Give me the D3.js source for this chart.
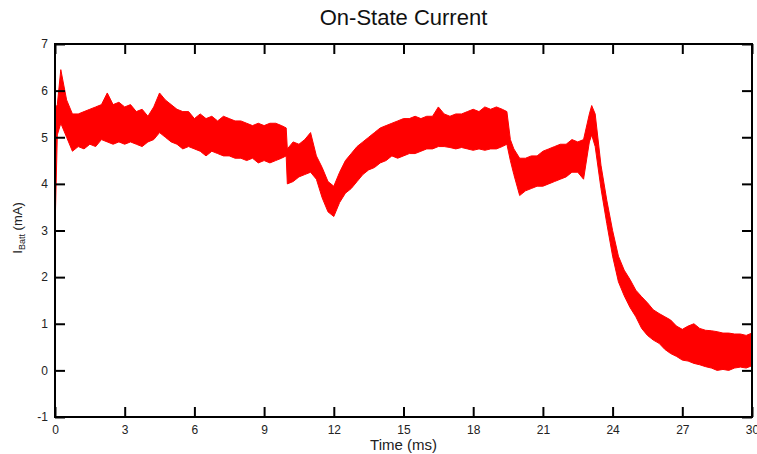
<!DOCTYPE html>
<html>
<head>
<meta charset="utf-8">
<script src="https://cdn.jsdelivr.net/npm/d3@7/dist/d3.min.js"></script>
<style>
  html, body { margin: 0; padding: 0; background: #fff; }
  svg { display: block; }
  text { font-family: "Liberation Sans", Arial, sans-serif; }
</style>
</head>
<body>
<svg id="chart" width="757" height="454"></svg>
<script>
// ---- Data ----
const title = "On-State Current";
const xTicks = [0, 3, 6, 9, 12, 15, 18, 21, 24, 27, 30];
const yTicks = [-1, 0, 1, 2, 3, 4, 5, 6, 7];

// time (ms)
const timeMs = [0, 0.1, 0.25, 0.5, 0.75, 1, 1.25, 1.5, 1.75, 2, 2.25, 2.5, 2.75, 3, 3.25, 3.5, 3.75,
  4, 4.25, 4.5, 4.75, 5, 5.25, 5.5, 5.75, 6, 6.25, 6.5, 6.75, 7, 7.25, 7.5, 7.75,
  8, 8.25, 8.5, 8.75, 9, 9.25, 9.5, 9.75, 9.95, 10, 10.25, 10.5, 10.75, 11, 11.25, 11.5, 11.75,
  12, 12.25, 12.5, 12.75, 13, 13.25, 13.5, 13.75, 14, 14.25, 14.5, 14.75,
  15, 15.25, 15.5, 15.75, 16, 16.25, 16.5, 16.75, 17, 17.25, 17.5, 17.75,
  18, 18.25, 18.5, 18.75, 19, 19.25, 19.45, 19.6, 19.75, 20, 20.25, 20.5, 20.75,
  21, 21.25, 21.5, 21.75, 22, 22.25, 22.5, 22.75, 23, 23.1, 23.25, 23.5, 23.75,
  24, 24.25, 24.5, 24.75, 25, 25.25, 25.5, 25.75, 26, 26.25, 26.5, 26.75,
  27, 27.25, 27.5, 27.75, 28, 28.25, 28.5, 28.75, 29, 29.25, 29.5, 29.75, 30];
// upper envelope of I_Batt (mA)
const upperMa = [5.6, 5.7, 6.45, 5.8, 5.5, 5.5, 5.55, 5.6, 5.65, 5.7, 5.95, 5.7, 5.75, 5.65, 5.7, 5.55, 5.6,
  5.45, 5.65, 5.95, 5.8, 5.7, 5.6, 5.55, 5.55, 5.4, 5.5, 5.4, 5.45, 5.35, 5.45, 5.4, 5.35,
  5.35, 5.3, 5.25, 5.3, 5.25, 5.3, 5.3, 5.25, 5.2, 4.75, 4.9, 4.85, 4.95, 5.1, 4.6, 4.35, 4.05,
  3.95, 4.25, 4.5, 4.65, 4.8, 4.9, 5.0, 5.1, 5.2, 5.25, 5.3, 5.35,
  5.4, 5.4, 5.45, 5.4, 5.45, 5.45, 5.65, 5.5, 5.45, 5.5, 5.5, 5.55,
  5.6, 5.55, 5.65, 5.6, 5.65, 5.6, 5.55, 4.95, 4.75, 4.55, 4.55, 4.6, 4.6,
  4.7, 4.75, 4.8, 4.85, 4.85, 4.95, 4.9, 4.95, 5.5, 5.68, 5.5, 4.4, 3.65,
  3.0, 2.45, 2.15, 1.95, 1.72, 1.58, 1.45, 1.3, 1.22, 1.15, 1.08, 0.95,
  0.88, 0.95, 1.0, 0.9, 0.86, 0.85, 0.83, 0.8, 0.8, 0.78, 0.78, 0.75, 0.8];
// lower envelope of I_Batt (mA)
const lowerMa = [3.0, 5.05, 5.3, 5.0, 4.7, 4.8, 4.75, 4.85, 4.8, 4.95, 4.9, 4.85, 4.9, 4.85, 4.9, 4.85, 4.8,
  4.9, 4.95, 5.1, 5.0, 4.9, 4.85, 4.75, 4.8, 4.75, 4.7, 4.6, 4.7, 4.65, 4.6, 4.6, 4.55,
  4.55, 4.5, 4.55, 4.45, 4.5, 4.45, 4.5, 4.55, 4.6, 4.0, 4.05, 4.15, 4.2, 4.25, 4.1, 3.7, 3.4,
  3.3, 3.6, 3.8, 3.9, 4.05, 4.2, 4.3, 4.35, 4.45, 4.5, 4.6, 4.55,
  4.6, 4.65, 4.65, 4.7, 4.75, 4.75, 4.8, 4.8, 4.78, 4.75, 4.78, 4.75,
  4.72, 4.75, 4.72, 4.75, 4.75, 4.8, 4.85, 4.5, 4.2, 3.75, 3.85, 3.9, 3.95,
  3.95, 4.0, 4.05, 4.1, 4.15, 4.25, 4.25, 4.1, 4.9, 5.05, 4.8, 3.9, 3.15,
  2.45, 1.9, 1.6, 1.35, 1.15, 0.9, 0.75, 0.65, 0.58, 0.45, 0.36, 0.3,
  0.22, 0.2, 0.15, 0.12, 0.08, 0.05, 0.0, 0.02, 0.0, 0.05, 0.07, 0.05, 0.1];

const data = timeMs.map((t, i) => ({ t, hi: upperMa[i], lo: lowerMa[i] }));

// ---- Layout ----
const svg = d3.select("#chart");
const m = { left: 55, right: 752, top: 44, bottom: 417 };
const x = d3.scaleLinear().domain([0, 30]).range([m.left, m.right]);
const y = d3.scaleLinear().domain([-1, 7]).range([m.bottom, m.top]);

// data band
svg.append("path")
  .datum(data)
  .attr("fill", "#ff0000")
  .attr("stroke", "#ff0000")
  .attr("stroke-width", 1)
  .attr("d", d3.area().x(d => x(d.t)).y0(d => y(d.lo)).y1(d => y(d.hi)));

// axes (ticks inward, mirrored)
const tickLen = 10;
const fmt = d => String(d);
const axStyle = g => {
  g.selectAll(".domain").remove();
  g.selectAll(".tick line").attr("stroke", "#000").attr("stroke-width", 2);
  g.selectAll(".tick text").attr("fill", "#222").style("font-size", "12px");
};
svg.append("g").attr("transform", `translate(0,${m.bottom})`)
  .call(d3.axisBottom(x).tickValues(xTicks).tickFormat(fmt).tickSizeInner(-tickLen).tickSizeOuter(0).tickPadding(8))
  .call(axStyle);
svg.append("g").attr("transform", `translate(0,${m.top})`)
  .call(d3.axisTop(x).tickValues(xTicks).tickSizeInner(-tickLen).tickSizeOuter(0).tickFormat(""))
  .call(axStyle);
svg.append("g").attr("transform", `translate(${m.left},0)`)
  .call(d3.axisLeft(y).tickValues(yTicks).tickFormat(fmt).tickSizeInner(-tickLen).tickSizeOuter(0).tickPadding(7))
  .call(axStyle);
svg.append("g").attr("transform", `translate(${m.right},0)`)
  .call(d3.axisRight(y).tickValues(yTicks).tickSizeInner(-tickLen).tickSizeOuter(0).tickFormat(""))
  .call(axStyle);

// frame
svg.append("rect")
  .attr("x", m.left).attr("y", m.top)
  .attr("width", m.right - m.left).attr("height", m.bottom - m.top)
  .attr("fill", "none").attr("stroke", "#000").attr("stroke-width", 2);

// title
svg.append("text")
  .attr("x", (m.left + m.right) / 2).attr("y", 25)
  .attr("text-anchor", "middle")
  .style("font-size", "22px").attr("fill", "#111")
  .text(title);

// x label
svg.append("text")
  .attr("x", (m.left + m.right) / 2).attr("y", 450)
  .attr("text-anchor", "middle")
  .style("font-size", "15px").attr("fill", "#222")
  .text("Time (ms)");

// y label with subscript
const yl = svg.append("text")
  .attr("transform", "translate(22,228) rotate(-90)")
  .attr("text-anchor", "middle")
  .style("font-size", "13px").attr("fill", "#222");
yl.append("tspan").text("I");
yl.append("tspan").attr("dy", 3).style("font-size", "9px").text("Batt");
yl.append("tspan").attr("dy", -3).text(" (mA)");
</script>
</body>
</html>
